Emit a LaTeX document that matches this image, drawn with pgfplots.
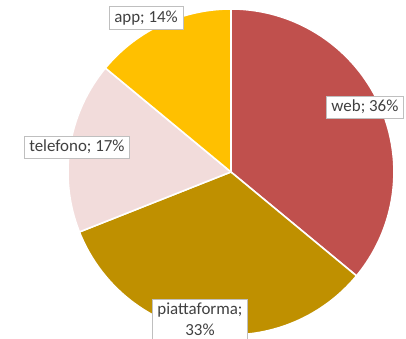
\documentclass[border=0pt]{standalone}
\usepackage{pgfplots}
\pgfplotsset{compat=1.18}
\usepackage{pgfplotstable}
\usepackage{fontspec}
\setmainfont{Carlito}
\definecolor{cweb}{RGB}{192,80,77}
\definecolor{cpia}{RGB}{191,144,0}
\definecolor{ctel}{RGB}{242,220,219}
\definecolor{capp}{RGB}{255,192,0}
\definecolor{ctxt}{RGB}{64,64,64}
\definecolor{cbox}{RGB}{191,191,191}
\tikzset{lbl/.style={draw=cbox, line width=0.6bp, fill=white, text=ctxt,
    font=\fontsize{17}{21}\selectfont, inner xsep=5bp, inner ysep=4bp, align=center}}
\pgfplotstableread{
name value
web 36
piattaforma 33
telefono 17
app 14
}\piedata
\begin{document}
\begin{tikzpicture}
\pgfplotstablegetelem{0}{value}\of\piedata \let\vA\pgfplotsretval
\pgfplotstablegetelem{1}{value}\of\piedata \let\vB\pgfplotsretval
\pgfplotstablegetelem{2}{value}\of\piedata \let\vC\pgfplotsretval
\pgfplotstablegetelem{3}{value}\of\piedata \let\vD\pgfplotsretval
\pgfmathsetmacro{\aA}{90}
\pgfmathsetmacro{\aB}{\aA-3.6*\vA}
\pgfmathsetmacro{\aC}{\aB-3.6*\vB}
\pgfmathsetmacro{\aD}{\aC-3.6*\vC}
\pgfmathsetmacro{\aE}{\aD-3.6*\vD}
\begin{axis}[name=ax, x=163bp, y=163bp,
  xmin=-1.417, xmax=1.074, ymin=-1.0245, ymax=1.055,
  hide axis, clip=false]
\addplot[fill=cweb, draw=white, line width=1.6bp, domain=\aB:\aA, samples=90] ({cos(x)},{sin(x)}) -- (axis cs:0,0) -- cycle;
\addplot[fill=cpia, draw=white, line width=1.6bp, domain=\aC:\aB, samples=90] ({cos(x)},{sin(x)}) -- (axis cs:0,0) -- cycle;
\addplot[fill=ctel, draw=white, line width=1.6bp, domain=\aD:\aC, samples=50] ({cos(x)},{sin(x)}) -- (axis cs:0,0) -- cycle;
\addplot[fill=capp, draw=white, line width=1.6bp, domain=\aE:\aD, samples=50] ({cos(x)},{sin(x)}) -- (axis cs:0,0) -- cycle;
\node[lbl] at (axis cs:0.822,0.399) {web; 36\%};
\node[lbl] at (axis cs:-0.521,0.945) {app; 14\%};
\node[lbl] at (axis cs:-0.945,0.153) {telefono; 17\%};
\node[lbl] at (axis cs:-0.190,-0.905) {piattaforma;\\33\%};
\end{axis}
\pgfresetboundingbox
\path (ax.south west) rectangle (ax.north east);
\end{tikzpicture}
\end{document}
